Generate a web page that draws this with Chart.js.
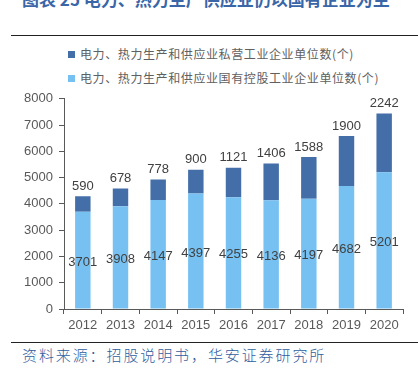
<!DOCTYPE html>
<html><head><meta charset="utf-8">
<script src="https://cdn.jsdelivr.net/npm/chart.js@4/dist/chart.umd.min.js"></script>
<style>
html,body{margin:0;padding:0;background:#fff;width:418px;height:372px;overflow:hidden;position:relative;font-family:"Noto Sans CJK SC",sans-serif;}
.title{position:absolute;left:22px;top:-10px;font-size:17px;font-weight:bold;color:#3A66A8;white-space:nowrap;line-height:17px;}
.rule{position:absolute;left:11px;width:407px;height:1px;background:#222;}
.leg{position:absolute;left:68px;font-size:12px;color:#606060;white-space:nowrap;line-height:14px;letter-spacing:0.6px;}
.leg i{display:inline-block;width:7px;height:7px;margin-right:5px;vertical-align:1px;}
.src{position:absolute;left:22px;top:346px;font-size:15px;font-weight:300;color:#2F5D9E;white-space:nowrap;letter-spacing:1.9px;line-height:18px;}
#wrap{position:absolute;left:0;top:85px;width:418px;height:255px;}
</style></head>
<body>
<div class="title">图表 25 电力、热力生产供应业仍以国有企业为主</div>
<div class="rule" style="top:35px"></div>
<div class="leg" style="top:47px"><i style="background:#446EA7"></i>电力、热力生产和供应业私营工业企业单位数(个)</div>
<div class="leg" style="top:71px"><i style="background:#76C1F2"></i>电力、热力生产和供应业国有控股工业企业单位数(个)</div>
<div id="wrap"><canvas id="c" width="418" height="255"></canvas></div>
<div class="rule" style="top:342px"></div>
<div class="src">资料来源：招股说明书，华安证券研究所</div>
<script>
const years = ["2012","2013","2014","2015","2016","2017","2018","2019","2020"];
const stateOwned = [3701,3908,4147,4397,4255,4136,4197,4682,5201];
const privateOwned = [590,678,778,900,1121,1406,1588,1900,2242];
const seriesNames = ["电力、热力生产和供应业国有控股工业企业单位数(个)","电力、热力生产和供应业私营工业企业单位数(个)"];

const labelPlugin = {
  id:'vals',
  afterDatasetsDraw(chart){
    const ctx = chart.ctx;
    ctx.save();
    ctx.font = '13px "Liberation Sans", Arial, sans-serif';
    ctx.fillStyle = '#404040';
    ctx.textAlign = 'center';
    ctx.textBaseline = 'middle';
    const m0 = chart.getDatasetMeta(0), m1 = chart.getDatasetMeta(1);
    m0.data.forEach((b,i)=>{
      ctx.fillText(String(stateOwned[i]), b.x, (b.y + b.base)/2 + 2);
    });
    m1.data.forEach((b,i)=>{
      ctx.fillText(String(privateOwned[i]), b.x, b.y - 10);
    });
    ctx.restore();
  }
};

new Chart(document.getElementById('c'), {
  type:'bar',
  data:{labels:years, datasets:[
    {label:seriesNames[0], data:stateOwned, backgroundColor:'#76C1F2', barPercentage:0.41, categoryPercentage:1},
    {label:seriesNames[1], data:privateOwned, backgroundColor:'#446EA7', barPercentage:0.41, categoryPercentage:1}
  ]},
  options:{
    responsive:false, animation:false,
    layout:{padding:{top:8,right:15,left:0,bottom:0}},
    plugins:{legend:{display:false}, tooltip:{enabled:false}},
    scales:{
      x:{stacked:true,
        grid:{display:true, drawOnChartArea:false, offset:true, tickLength:5, color:'#595959'},
        border:{display:true,color:'#595959',width:1},
        ticks:{color:'#595959', font:{size:13,family:'"Liberation Sans", Arial, sans-serif'}, padding:4},
        afterFit(s){ s.height = 31; }
      },
      y:{stacked:true, min:0, max:8000,
        grid:{display:true, drawOnChartArea:false, tickLength:5, color:'#595959'},
        border:{display:true,color:'#595959',width:1},
        ticks:{stepSize:1000, color:'#595959', font:{size:13,family:'"Liberation Sans", Arial, sans-serif'}, padding:6,
          callback:(v)=>String(v)},
        afterFit(s){ s.width = 64; }
      }
    }
  },
  plugins:[labelPlugin]
});
</script>
</body></html>
